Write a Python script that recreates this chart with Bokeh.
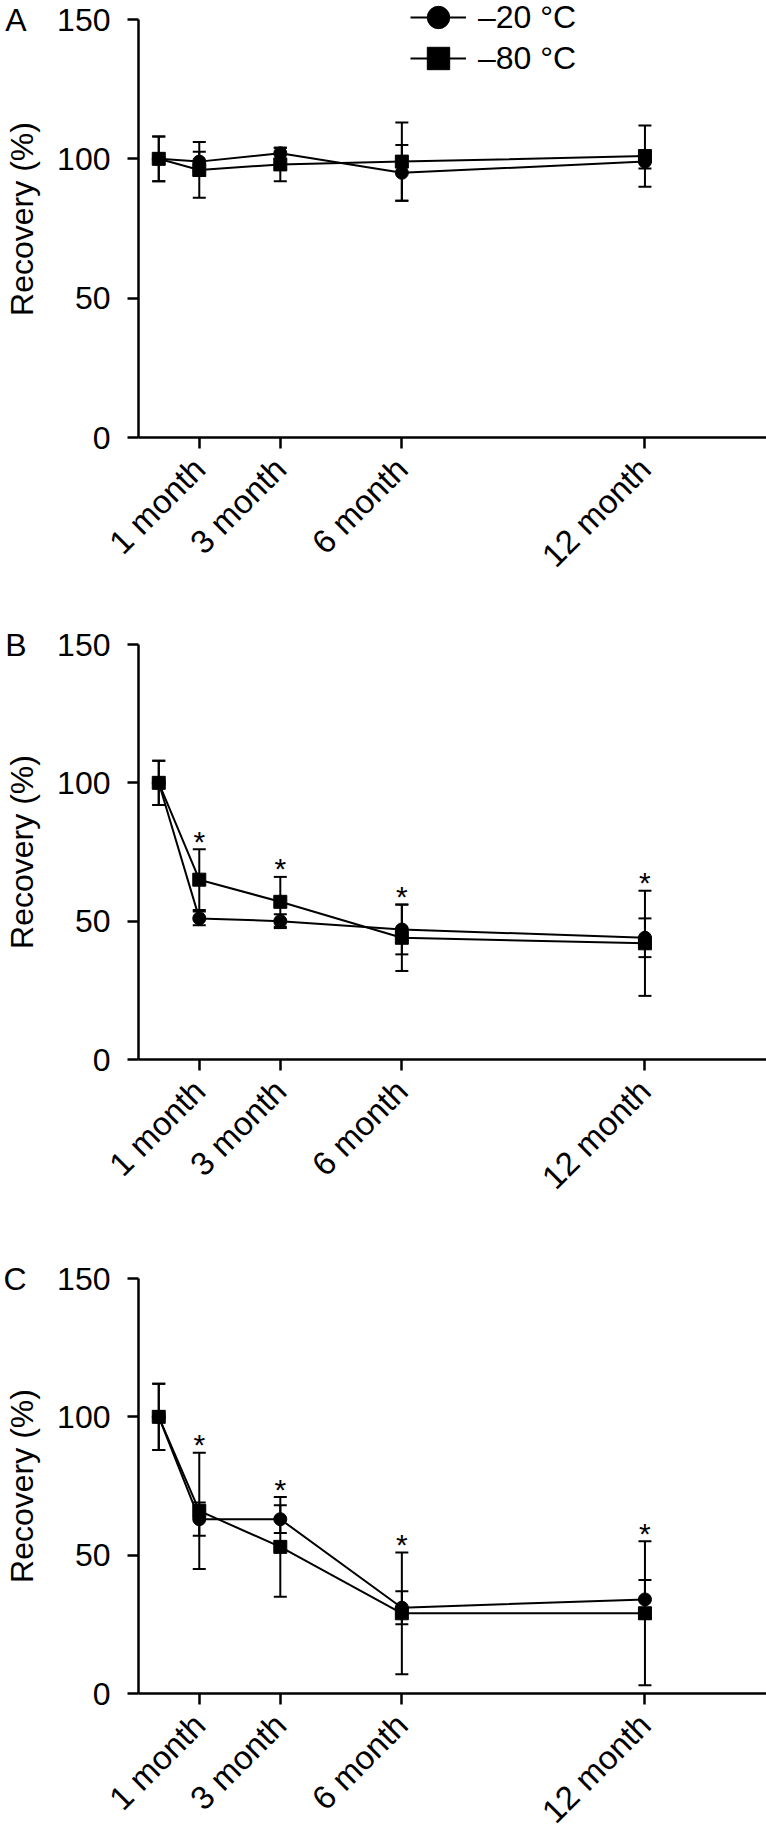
import math
from bokeh.plotting import figure
from bokeh.layouts import column
from bokeh.models import (Range1d, FixedTicker, Whisker, TeeHead, ColumnDataSource,
                          Legend, LegendItem, LinearAxis)
from bokeh.core.properties import value
from bokeh.embed import file_html
from bokeh.resources import INLINE

# ---------------- data ----------------
months = [0, 1, 3, 6, 12]
tick_months = [1, 3, 6, 12]
tick_labels = ["1 month", "3 month", "6 month", "12 month"]
y_ticks = [0, 50, 100, 150]
series_labels = ["\u201320 \u00b0C", "\u201380 \u00b0C"]
panel_letters = ["A", "B", "C"]

A_m20 = [100, 99, 102, 95, 99]
A_m20_sd = [8, 3.5, 2, 10, 2.5]
A_m80 = [100, 96, 98, 99, 101]
A_m80_sd = [8, 10, 6, 14, 11]

B_m20 = [100, 51, 50, 47, 44]
B_m20_sd = [8, 2.5, 2.5, 9, 7]
B_m80 = [100, 65, 57, 44, 42]
B_m80_sd = [8, 11, 9, 12, 19]

C_m20 = [100, 63, 63, 31, 34]
C_m20_sd = [12, 6, 5, 6, 7]
C_m80 = [100, 66, 53, 29, 29]
C_m80_sd = [12, 21, 18, 22, 26]

A_sig = []
B_sig = [1, 3, 6, 12]
C_sig = [1, 3, 6, 12]

FONT = "Liberation Sans"
FS = "32px"
X0, X1 = -0.5, 15.0
Y0, Y1 = 0, 150
FRAME_W = 628
LEFT = 138
DATA_H = {"A": 418, "B": 415, "C": 415}


def style_axis(ax):
    ax.axis_line_width = 2.5
    ax.axis_line_color = "black"
    ax.major_tick_line_width = 2.5
    ax.major_tick_line_color = "black"
    ax.major_tick_out = 11
    ax.major_tick_in = 0
    ax.minor_tick_out = 0
    ax.minor_tick_in = 0
    ax.major_label_text_font = FONT
    ax.major_label_text_color = "black"


def make_panel(letter, m20, m20sd, m80, m80sd, sig, top, extra_top, bottom, legend=False):
    dh = DATA_H[letter]
    ppy = dh / (Y1 - Y0)
    # the frame may extend above the 150 line (room for the legend)
    fh = dh + extra_top
    y_end = Y1 + extra_top / ppy
    p = figure(frame_width=FRAME_W, frame_height=fh,
               x_range=Range1d(X0, X1), y_range=Range1d(Y0, y_end),
               output_backend="svg", toolbar_location=None,
               min_border_left=LEFT, min_border_right=0,
               min_border_top=top, min_border_bottom=bottom)
    p.outline_line_color = None
    p.grid.visible = False
    p.background_fill_color = "white"
    p.border_fill_color = "white"

    xa = p.xaxis[0]
    ya = p.yaxis[0]
    style_axis(xa)
    style_axis(ya)

    xa.ticker = FixedTicker(ticks=tick_months)
    xa.major_label_overrides = {m: t for m, t in zip(tick_months, tick_labels)}
    xa.major_label_orientation = math.pi / 4
    xa.major_label_standoff = 15
    xa.major_label_text_font_size = "33px"

    ya.ticker = FixedTicker(ticks=y_ticks)
    ya.bounds = (Y0, Y1)
    ya.major_label_standoff = 17
    ya.major_label_text_font_size = FS
    ya.axis_label = "Recovery (%)"
    ya.axis_label_text_font = FONT
    ya.axis_label_text_font_size = FS
    ya.axis_label_text_font_style = "normal"
    ya.axis_label_text_color = "black"
    ya.axis_label_standoff = 14

    # outer axis that only carries the panel letter, level with the 150 tick
    la = LinearAxis(ticker=FixedTicker(ticks=[Y1]),
                    major_label_overrides={Y1: letter},
                    axis_line_color=None, major_tick_line_color=None,
                    minor_tick_line_color=None, major_tick_out=0, major_tick_in=0,
                    minor_tick_out=0, minor_tick_in=0,
                    major_label_standoff=-25,
                    major_label_text_font=FONT, major_label_text_font_size=FS,
                    major_label_text_color="black", bounds=(Y0, Y1))
    p.add_layout(la, "left")

    renderers = []
    for vals, sd, marker in ((m20, m20sd, "circle"), (m80, m80sd, "square")):
        src = ColumnDataSource(dict(
            x=months, y=vals,
            upper=[v + e for v, e in zip(vals, sd)],
            lower=[v - e for v, e in zip(vals, sd)]))
        w = Whisker(source=src, base="x", upper="upper", lower="lower",
                    line_width=2, line_color="black",
                    upper_head=TeeHead(size=13, line_width=2, line_color="black"),
                    lower_head=TeeHead(size=13, line_width=2, line_color="black"))
        p.add_layout(w)
        ln = p.line("x", "y", source=src, line_width=2, line_color="black")
        sc = p.scatter("x", "y", source=src, marker=marker, size=13,
                       fill_color="black", line_color="black")
        renderers.append((ln, sc))

    if sig:
        tops = {m: max(a + ea, b + eb) for m, a, ea, b, eb in
                zip(months, m20, m20sd, m80, m80sd)}
        star_src = ColumnDataSource(dict(x=sig, y=[tops[m] for m in sig],
                                         t=["*"] * len(sig)))
        p.text("x", "y", text="t", source=star_src,
               text_font_size=value("30px"), text_font=value(FONT),
               text_align="center", text_baseline="middle", y_offset=-8,
               text_color="black")

    if legend:
        # row centres (canvas px from top): circle 17, square 58
        for (ln, sc), lab, cy in zip(renderers, series_labels, (17, 58)):
            bottom_canvas = cy + 30
            lg = Legend(items=[LegendItem(label=lab, renderers=[ln, sc])],
                        location=(438 - 28 - LEFT, top + fh - bottom_canvas),
                        glyph_width=56, glyph_height=60, spacing=0,
                        padding=0, margin=0, label_standoff=12,
                        label_text_font=FONT, label_text_font_size=FS,
                        label_text_color="black",
                        border_line_color=None, background_fill_alpha=0)
            p.add_layout(lg)
    return p


# A: frame reaches the canvas top (19 px above the 150 line) so the legend fits
pA = make_panel("A", A_m20, A_m20_sd, A_m80, A_m80_sd, A_sig, 0, 19, 187, legend=True)
pB = make_panel("B", B_m20, B_m20_sd, B_m80, B_m80_sd, B_sig, 20, 0, 199)
pC = make_panel("C", C_m20, C_m20_sd, C_m80, C_m80_sd, C_sig, 20, 0, 138)

layout = column(pA, pB, pC, spacing=0)
open("out.html", "w").write(file_html(layout, INLINE))
